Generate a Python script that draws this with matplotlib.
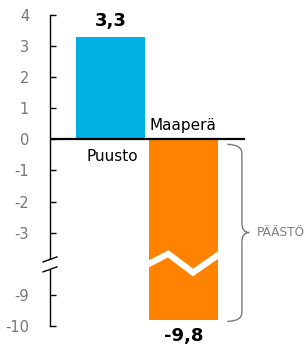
import numpy as np
import matplotlib.pyplot as plt
from matplotlib.path import Path
from matplotlib.patches import PathPatch

# Data
categories = ['Puusto', 'Maaperä']
values = [3.3, -9.8]
value_labels = ['3,3', '-9,8']
bar_colors = ['#00b2e3', '#ff8300']
tick_values = [4, 3, 2, 1, 0, -1, -2, -3, -9, -10]
tick_labels = ['4', '3', '2', '1', '0', '-1', '-2', '-3', '-9', '-10']

# broken axis: values below the break are shifted up
BREAK = -4.0
SHIFT = 4.0


def tr(v):
    return v if v > BREAK else v + SHIFT


fig = plt.figure(figsize=(3.04, 3.5), dpi=100)
ax = fig.add_axes([50 / 304, 24 / 350, 254 / 304, 311 / 350])
ax.set_xlim(-0.829, 2.65)
ax.set_ylim(-6, 4)

x = np.arange(len(categories))
width = 0.945
yv = [tr(v) for v in values]
ax.bar(x, yv, width=width, color=bar_colors, zorder=2)

# zero line
ax.plot([-0.829, 1.84], [0, 0], color='black', lw=1.6, zorder=3, solid_capstyle='butt')

# zigzag cut in the broken bar
xl, xr = x[1] - width / 2, x[1] + width / 2
zx = [xl, x[1] - 0.21, x[1] + 0.13, xr]
zy = [-4.0, -3.68, -4.28, -3.72]
ax.plot(zx, zy, color='white', lw=4.5, zorder=4, solid_joinstyle='miter')

# value labels
ax.annotate(value_labels[0], (x[0], yv[0]), xytext=(0, 5), textcoords='offset points',
            ha='center', va='bottom', fontsize=13, fontweight='bold')
ax.annotate(value_labels[1], (x[1], yv[1]), xytext=(0, -5), textcoords='offset points',
            ha='center', va='top', fontsize=13, fontweight='bold', annotation_clip=False)

# category labels
ax.text(x[0] + 0.02, -0.3, categories[0], ha='center', va='top', fontsize=11)
ax.text(x[1] - width / 2, 0.2, categories[1], ha='left', va='bottom', fontsize=11)

# y axis drawn by hand with a break
ax0 = -0.829
b1, b2 = -3.86, -4.18
for s in ax.spines.values():
    s.set_visible(False)
ax.plot([ax0, ax0], [4, b1 + 0.03], color='black', lw=1, clip_on=False)
ax.plot([ax0, ax0], [b2 - 0.03, -6], color='black', lw=1, clip_on=False)
for yb in (b1, b2):
    ax.plot([ax0 - 0.095, ax0 + 0.095], [yb - 0.08, yb + 0.08], color='black', lw=1, clip_on=False)

ax.set_yticks([tr(v) for v in tick_values])
ax.set_yticklabels(tick_labels)
ax.tick_params(axis='y', direction='in', length=4, width=1, pad=15,
               labelsize=10.5, labelcolor='#777777', color='black')
ax.set_xticks([])

# brace for "PÄÄSTÖ"
x0, x1, xt = 1.6, 1.80, 1.90
ytop, ybot = -0.16, -5.85
ymid = (ytop + ybot) / 2 + 0.01
r = 0.3
verts = [(x0, ytop), (x1, ytop), (x1, ytop - r),
         (x1, ymid + r), (x1, ymid), (xt, ymid),
         (x1, ymid), (x1, ymid - r),
         (x1, ybot + r), (x1, ybot), (x0, ybot)]
codes = [Path.MOVETO, Path.CURVE3, Path.CURVE3,
         Path.LINETO, Path.CURVE3, Path.CURVE3,
         Path.CURVE3, Path.CURVE3,
         Path.LINETO, Path.CURVE3, Path.CURVE3]
ax.add_patch(PathPatch(Path(verts, codes), fill=False, edgecolor='#7a7a7a', lw=1, zorder=3))
ax.text(2.0, ymid, 'PÄÄSTÖ', ha='left', va='center', fontsize=8.7, color='#808080')

fig.savefig('out.png', dpi=100)
